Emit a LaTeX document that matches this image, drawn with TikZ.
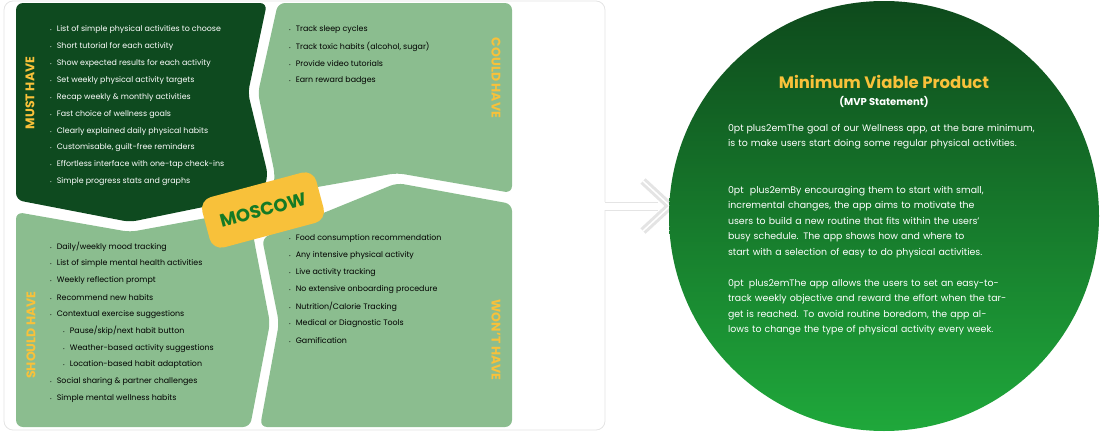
\documentclass[tikz,border=0pt]{standalone}
\usepackage{fontspec}
\setmainfont{Poppins}
\usetikzlibrary{positioning,calc}
\definecolor{mustgreen}{HTML}{0E4A1F}
\definecolor{softgreen}{HTML}{8BBD8F}
\definecolor{mossgold}{HTML}{F8C13A}
\definecolor{mossword}{HTML}{157A25}
\definecolor{frameline}{HTML}{E4E4E4}
\definecolor{mvptop}{HTML}{0E4A1C}
\definecolor{mvpbot}{HTML}{1FA83B}
\tikzset{
  panel/.style={rounded corners=7pt},
  item/.style={anchor=west,inner sep=0pt,font=\fontsize{7.9}{8}\selectfont},
  tag/.style={font=\fontsize{12.5}{13}\selectfont\bfseries,text=mossgold},
  para/.style={text width=312pt,align=center,text=white,inner sep=0pt,
               font=\fontsize{9.4}{15.5}\selectfont\hyphenpenalty=10000}
}
\newcommand{\bul}{{\fontsize{4}{4}\selectfont\textbullet}\hspace{5pt}}

\begin{document}
\begin{tikzpicture}[x=1pt,y=-1pt]
  \useasboundingbox (0,0) rectangle (1100,431);

  % frame and pointer
  \draw[frameline,line width=0.8pt,rounded corners=9pt]
     (605,202) -- (605,1) -- (4,1) -- (4,430) -- (605,430) -- (605,210);
  \coordinate (fa) at (605,202);
  \coordinate (fb) at (605,210);
  \coordinate (tip) at (670,206);
  \draw[frameline,line width=0.8pt] (fa) -- (658,202) (fb) -- (658,210);
  \draw[frameline,line width=3pt,double=white,double distance=1.5pt]
     (643,181) -- (tip) -- (643,231);

  % the four quadrants
  \fill[mustgreen,panel] (16,3) -- (267,3) -- (248,93) -- (268,175) -- (262,195)
     -- (130,222) -- (16,200) -- cycle;
  \fill[softgreen,panel] (278,3) -- (512,3) -- (512,193) -- (397,173)
     -- (272,195) -- (275,175) -- (258,93) -- cycle;
  \fill[softgreen,panel] (16,212) -- (130,232) -- (250,210) -- (254,240)
     -- (270,323) -- (250,427) -- (16,427) -- cycle;
  \fill[softgreen,panel] (262,238) -- (397,183) -- (512,204) -- (512,427)
     -- (260,427) -- (279,323) -- cycle;

  % moscow badge
  \node[fill=mossgold,rounded corners=12pt,rotate=15,minimum width=118pt,
        minimum height=52pt] (moscow) at (263,210) {};
  \node[rotate=15,text=mossword,font=\fontsize{18}{19}\selectfont\bfseries]
        (mosword) at (moscow) {MOSCOW};

  % quadrant titles
  \node[tag,rotate=90] (must) at (30,93) {MUST HAVE};
  \node[tag,rotate=-90] (could) at (496,78) {COULD HAVE};
  \node[tag,rotate=90] (should) at (31,335) {SHOULD HAVE};
  \node[tag,rotate=-90] (wont) at (496,340) {WON'T HAVE};

  % lists
  \foreach \t [count=\i] in {List of simple physical activities to choose,
      Short tutorial for each activity, Show expected results for each activity,
      Set weekly physical activity targets, Recap weekly \& monthly activities,
      Fast choice of wellness goals, Clearly explained daily physical habits,
      {Customisable, guilt-free reminders}, Effortless interface with one-tap check-ins,
      Simple progress stats and graphs}
    \node[item,text=white] (must\i) at (50,{30+16.85*(\i-1)}) {\bul\t};
  \foreach \t [count=\i] in {Track sleep cycles, {Track toxic habits (alcohol, sugar)},
      Provide video tutorials, Earn reward badges}
    \node[item] (could\i) at (289,{30+16.85*(\i-1)}) {\bul\t};
  \foreach \t/\dx [count=\i] in {{Daily/weekly mood tracking}/0,
      List of simple mental health activities/0, Weekly reflection prompt/0,
      Recommend new habits/0, Contextual exercise suggestions/0,
      {Pause/skip/next habit button}/13, Weather-based activity suggestions/13,
      Location-based habit adaptation/13, Social sharing \& partner challenges/0,
      Simple mental wellness habits/0}
    \node[item] (should\i) at ({50+\dx},{247+16.85*(\i-1)}) {\bul\t};
  \foreach \t [count=\i] in {Food consumption recommendation,
      Any intensive physical activity, Live activity tracking,
      No extensive onboarding procedure, {Nutrition/Calorie Tracking},
      Medical or Diagnostic Tools, Gamification}
    \node[item] (wont\i) at (289,{239+16.85*(\i-1)}) {\bul\t};

  % mvp circle
  \shade[top color=mvptop,bottom color=mvpbot] (884,216) circle (215);
  \node[text=mossgold,font=\fontsize{16.5}{18}\selectfont\bfseries] (mvp) at (884,82)
     {Minimum Viable Product};
  \node[text=white,font=\fontsize{10}{11}\selectfont\bfseries,below=1pt of mvp]
     (mvpsub) {(MVP Statement)};
  \node[para,anchor=north] (goal) at (884,124) {The goal of our Wellness app, at the
     bare minimum, is to make users start doing some regular physical activities.};
  \node[para,anchor=north] (steps) at (884,186) {By encouraging them to start with small,
     incremental changes, the app aims to motivate the users to build a new routine that
     fits within the users' busy schedule. The app shows how and where to start with a
     selection of easy to do physical activities.};
  \node[para,anchor=north] (reward) at (884,279) {The app allows the users to set an
     easy-to-track weekly objective and reward the effort when the target is reached. To
     avoid routine boredom, the app allows to change the type of physical activity every week.};
\end{tikzpicture}
\end{document}
